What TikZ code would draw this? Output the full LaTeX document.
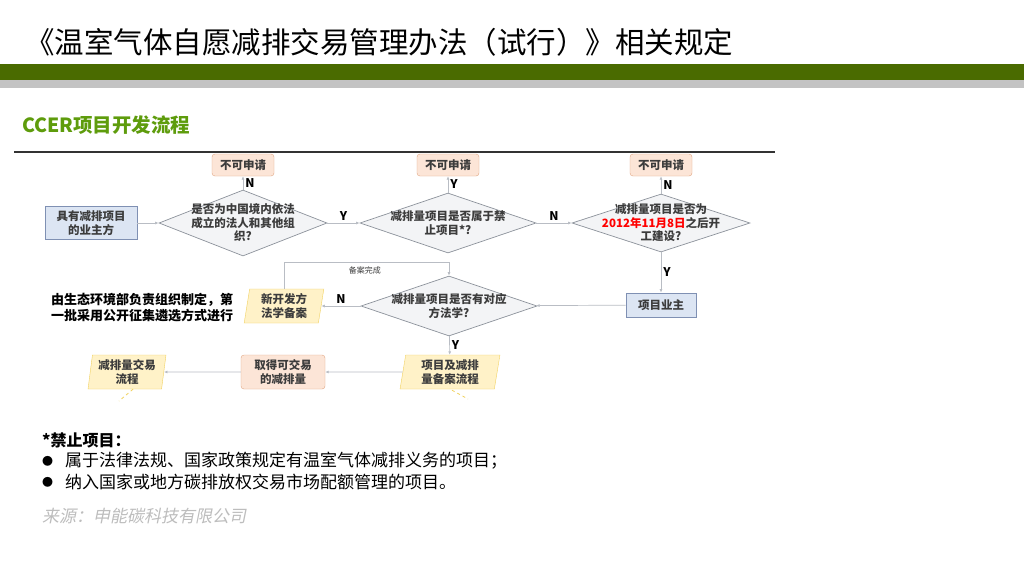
\documentclass[tikz,border=0pt]{standalone}
\usepackage{fontspec}
\setmainfont{Noto Sans CJK SC}
\newfontfamily\cjkslant[FakeSlant=0.2]{Noto Sans CJK SC}
\usetikzlibrary{positioning,arrows.meta,shapes.geometric}
\definecolor{barGreen}{HTML}{4A6B00}
\definecolor{barGray}{HTML}{C3C3C3}
\definecolor{headGreen}{HTML}{5E9C0C}
\definecolor{orFill}{HTML}{FCE5D7}
\definecolor{orLine}{HTML}{E2A784}
\definecolor{blFill}{HTML}{DCE5F3}
\definecolor{blLine}{HTML}{7F90B3}
\definecolor{yeFill}{HTML}{FFF2C8}
\definecolor{yeLine}{HTML}{F1D260}
\definecolor{dmFill}{HTML}{F3F4F6}
\definecolor{dmLine}{HTML}{8C929B}
\definecolor{lnGray}{HTML}{B9BDC4}
\definecolor{txGray}{HTML}{3C3C3C}
\definecolor{srcGray}{HTML}{BDBDBD}

\begin{document}
\begin{tikzpicture}[x=1pt,y=-1pt,>={Latex[length=3.5pt,width=3pt]},
  ftxt/.style={font=\bfseries\fontsize{11.5}{14}\selectfont,text=txGray,align=center},
  dtxt/.style={ftxt,font=\bfseries\fontsize{11.5}{13.5}\selectfont},
  nobox/.style={ftxt,draw=orLine,fill=orFill,rounded corners=3pt,minimum width=62pt,minimum height=22pt,inner sep=1pt},
  endbox/.style={nobox,minimum width=84pt,minimum height=34pt},
  ownbox/.style={ftxt,draw=blLine,fill=blFill,line width=0.8pt,inner sep=1pt},
  iobox/.style={ftxt,trapezium,trapezium left angle=82,trapezium right angle=98,trapezium stretches=true,
    draw=yeLine,fill=yeFill,minimum width=80pt,minimum height=34pt,inner sep=1pt},
  ask/.style={diamond,draw=dmLine,fill=dmFill,line width=0.7pt,inner sep=0pt},
  conn/.style={->,draw=lnGray,line width=0.7pt},
  yn/.style={font=\bfseries\fontsize{12}{12}\selectfont,inner sep=2pt},
  stub/.style={draw=yeLine,dashed,line width=0.8pt}]
\useasboundingbox (0,0) rectangle (1024,576);
\fill[white] (0,0) rectangle (1024,576);

% header
\node[anchor=west,font=\fontsize{29.5}{29.5}\selectfont,inner sep=0pt] (title) at (25,42)
  {《温室气体自愿减排交易管理办法（试行）》相关规定};
\fill[barGreen] (0,64) rectangle (1024,80);
\fill[barGray] (0,80) rectangle (1024,88);
\node[anchor=west,font=\bfseries\fontsize{19.5}{19.5}\selectfont,text=headGreen,inner sep=0pt] (sub) at (22,125)
  {CCER项目开发流程};
\draw[black!80,line width=1.1pt] (14,152) -- (775,152);

% first row
\node[ownbox,minimum width=92pt,minimum height=33pt] (start) at (91,223) {具有减排项目\\的业主方};
\node[ask,minimum width=168pt,minimum height=66pt] (q1) at (243,223) {};
\node[dtxt] at (q1) {是否为中国境内依法\\成立的法人和其他组\\织?};
\node[ask,minimum width=176pt,minimum height=60pt] (q2) at (448,223) {};
\node[dtxt] at (q2) {减排量项目是否属于禁\\止项目*?};
\node[ask,minimum width=178pt,minimum height=58pt] (q3) at (661,223) {};
\node[dtxt] at (q3)
  {减排量项目是否为\\\textcolor{red}{2012年11月8日}之后开\\工建设?};
\node[nobox] (no1) at (243,165) {不可申请};
\node[nobox] (no2) at (448,165) {不可申请};
\node[nobox] (no3) at (661,165) {不可申请};

% second row
\node[ownbox,minimum width=70pt,minimum height=24pt] (owner) at (661,305) {项目业主};
\node[ask,minimum width=176pt,minimum height=60pt] (q4) at (449,306) {};
\node[dtxt] at (q4) {减排量项目是否有对应\\方法学?};
\node[iobox] (newm) at (284,306) {新开发方\\法学备案};
\node[anchor=west,align=left,font=\bfseries\fontsize{13}{16}\selectfont,inner sep=0pt] (note) at (51,308)
  {由生态环境部负责组织制定，第\\一批采用公开征集遴选方式进行};

% third row
\node[iobox,minimum width=100pt] (rec) at (450,372) {项目及减排\\量备案流程};
\node[endbox] (credit) at (283,372) {取得可交易\\的减排量};
\node[iobox,minimum width=78pt] (trade) at (127,372) {减排量交易\\流程};
\coordinate (tradeEnd) at (119,401);
\coordinate (recEnd) at (468,399);

% connectors
\draw[conn] (start) -- (q1);
\draw[conn] (q1) -- node[yn,above]{Y} (q2);
\draw[conn] (q2) -- node[yn,above]{N} (q3);
\draw[conn] (q1) -- node[yn,right]{N} (no1);
\draw[conn] (q2) -- node[yn,right]{Y} (no2);
\draw[conn] (q3) -- node[yn,right]{N} (no3);
\draw[conn] (q3) -- node[yn,right]{Y} (owner);
\draw[conn] (owner) -- (q4);
\draw[conn] (q4) -- node[yn,above]{N} (newm);
\draw[conn] (newm.north) -- ++(0,-26) -| node[pos=0.245,below,font=\fontsize{8}{8}\selectfont,text=txGray]{备案完成} (q4.north);
\draw[conn] (q4) -- node[yn,right]{Y} (rec);
\draw[conn] (rec) -- (credit);
\draw[conn] (credit) -- (trade);
\draw[stub] (trade.south) ++(6,0) -- (tradeEnd);
\draw[stub] (rec.south) ++(2,1) .. controls (460,394) .. (recEnd);

% notes
\node[anchor=west,font=\bfseries\fontsize{16}{16}\selectfont,inner sep=0pt] (forbid) at (42,440) {*禁止项目：};
\node[anchor=west,font=\fontsize{11}{11}\selectfont,inner sep=0pt] (b1) at (42,461) {●};
\node[anchor=west,font=\fontsize{17}{17}\selectfont,inner sep=0pt] (t1) at (65,461)
  {属于法律法规、国家政策规定有温室气体减排义务的项目；};
\node[anchor=west,font=\fontsize{11}{11}\selectfont,inner sep=0pt] (b2) at (42,482) {●};
\node[anchor=west,font=\fontsize{17}{17}\selectfont,inner sep=0pt] (t2) at (65,482)
  {纳入国家或地方碳排放权交易市场配额管理的项目。};
\node[anchor=west,font=\cjkslant\fontsize{17}{17}\selectfont,text=srcGray,inner sep=0pt] (src) at (42,516)
  {来源：申能碳科技有限公司};
\end{tikzpicture}
\end{document}
